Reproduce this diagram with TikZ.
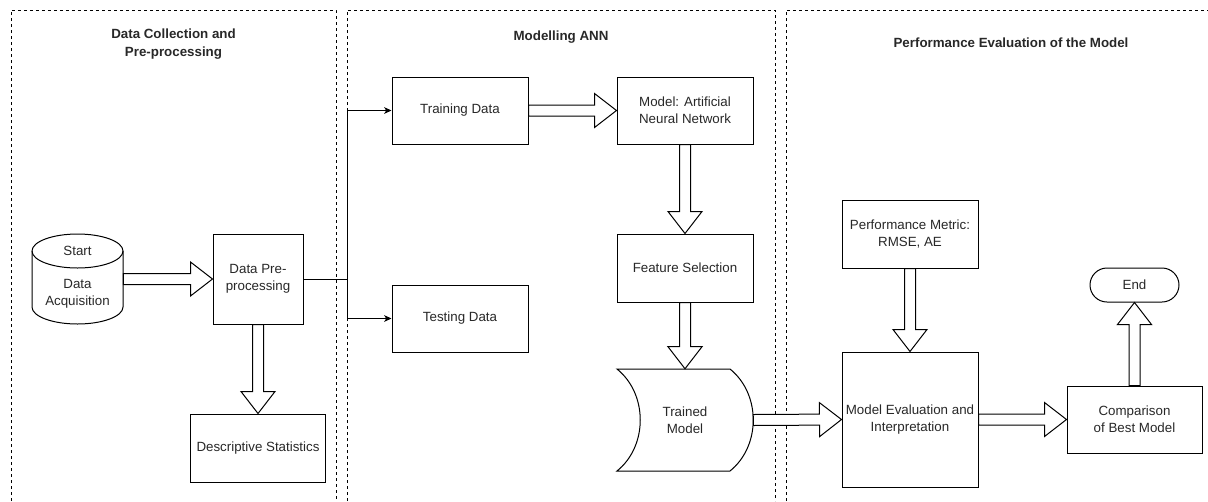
\documentclass[tikz,border=0pt]{standalone}
\usepackage{fontspec}
\setmainfont{Liberation Sans}
\usetikzlibrary{calc,arrows.meta}
\definecolor{txt}{RGB}{40,40,40}
\tikzset{
  panel/.style={draw=black, line width=0.75pt, dash pattern=on 2.25pt off 2.25pt},
  box/.style={draw=black, line width=0.75pt, fill=white, align=center, inner sep=0pt,
              font=\fontsize{10}{12.5}\selectfont, text=txt},
  ghost/.style={inner sep=0pt, align=center, font=\fontsize{10}{12.5}\selectfont, text=txt},
  ttl/.style={align=center, font=\fontsize{10}{13.5}\selectfont\bfseries, text=txt},
  conn/.style={draw=black, line width=0.75pt, -{Stealth[length=5.5pt,width=5pt,inset=1.5pt]}},
  barrow/.style={draw=black, line width=0.75pt, fill=white, line join=miter}
}
\newcommand\blockarrow[2]{%
  \coordinate (ba-h) at ($(#2)!16.5pt!(#1)$);
  \draw[barrow] ($(#1)!4.125pt!90:(#2)$) -- ($(ba-h)!4.125pt!90:(#2)$)
    -- ($(ba-h)!12.75pt!90:(#2)$) -- (#2) -- ($(ba-h)!12.75pt!-90:(#2)$)
    -- ($(ba-h)!4.125pt!-90:(#2)$) -- ($(#1)!4.125pt!-90:(#2)$) -- cycle;
}
\begin{document}
\begin{tikzpicture}[x=0.75pt,y=-0.75pt]
\useasboundingbox (0,0) rectangle (1208,501);

% panels
\draw[panel] (11,501) -- (11,10) -- (336,10) -- (336,501);
\draw[panel] (347,501) -- (347,10) -- (775,10) -- (775,501);
\draw[panel] (786,501) -- (786,10) -- (1208,10);

\node[ttl] (t1) at (173.5,44) {Data Collection and\\Pre-processing};
\node[ttl] (t2) at (561,37) {Modelling ANN};
\node[ttl] (t3) at (1011,43) {Performance Evaluation of the Model};

% cylinder: Data Acquisition
\node[inner sep=0pt, minimum width=68.25pt, minimum height=67.5pt] (acq) at (77.5,279) {};
\draw[line width=0.75pt, fill=white] (32,251) -- (32,307)
  arc[start angle=180, end angle=360, x radius=34.125pt, y radius=12.75pt]
  -- (123,251)
  arc[start angle=0, end angle=180, x radius=34.125pt, y radius=12.75pt] -- cycle;
\draw[line width=0.75pt] (32,251) arc[start angle=180, end angle=360, x radius=34.125pt, y radius=12.75pt];
\node[ghost] (start) at (77.5,251) {Start};
\node[ghost] (acqtext) at (77.5,294) {Data\\Acquisition};

% boxes
\node[box, minimum width=67.5pt, minimum height=67.5pt] (pre) at (258,279) {Data Pre-\\processing};
\node[box, minimum width=101.25pt, minimum height=51pt] (desc) at (258,448) {Descriptive Statistics};
\node[box, minimum width=102pt, minimum height=50.25pt] (train) at (460,110.5) {Training Data};
\node[box, minimum width=102pt, minimum height=50.25pt] (test) at (460,318.5) {Testing Data};
\node[box, minimum width=102pt, minimum height=50.25pt] (ann) at (685,110.5) {Model: Artificial\\Neural Network};
\node[box, minimum width=102pt, minimum height=51pt] (feat) at (685,268) {Feature Selection};

% trained model (data storage shape)
\draw[line width=0.75pt, fill=white] (617,369) -- (730,369)
  .. controls (761,394) and (761,446) .. (730,471) -- (617,471)
  .. controls (648,446) and (648,394) .. (617,369) -- cycle;
\node[ghost, minimum width=102pt, minimum height=76.5pt] (trained) at (685,420) {Trained\\Model};

\node[box, minimum width=102pt, minimum height=51pt] (perf) at (910,234) {Performance Metric:\\RMSE, AE};
\node[box, minimum width=102pt, minimum height=101.25pt] (eval) at (910,419.5) {Model Evaluation and\\Interpretation};
\node[box, minimum width=101.25pt, minimum height=50.25pt] (comp) at (1134.5,419.5) {Comparison\\of Best Model};
\node[box, rounded corners=12.75pt, minimum width=66.75pt, minimum height=25.5pt] (end) at (1134.5,285) {End};

% thin connectors
\coordinate (split) at (347,279);
\draw[line width=0.75pt] (pre.east) -- (split);
\draw[conn] (split) |- (train.west);
\draw[conn] (split) |- (test.west);

% block arrows
\blockarrow{acq.east}{pre.west}
\blockarrow{pre.south}{desc.north}
\blockarrow{train.east}{ann.west}
\blockarrow{ann.south}{feat.north}
\blockarrow{feat.south}{trained.north}
\blockarrow{trained.east}{eval.west}
\blockarrow{perf.south}{eval.north}
\blockarrow{eval.east}{comp.west}
\blockarrow{comp.north}{end.south}
\end{tikzpicture}
\end{document}
